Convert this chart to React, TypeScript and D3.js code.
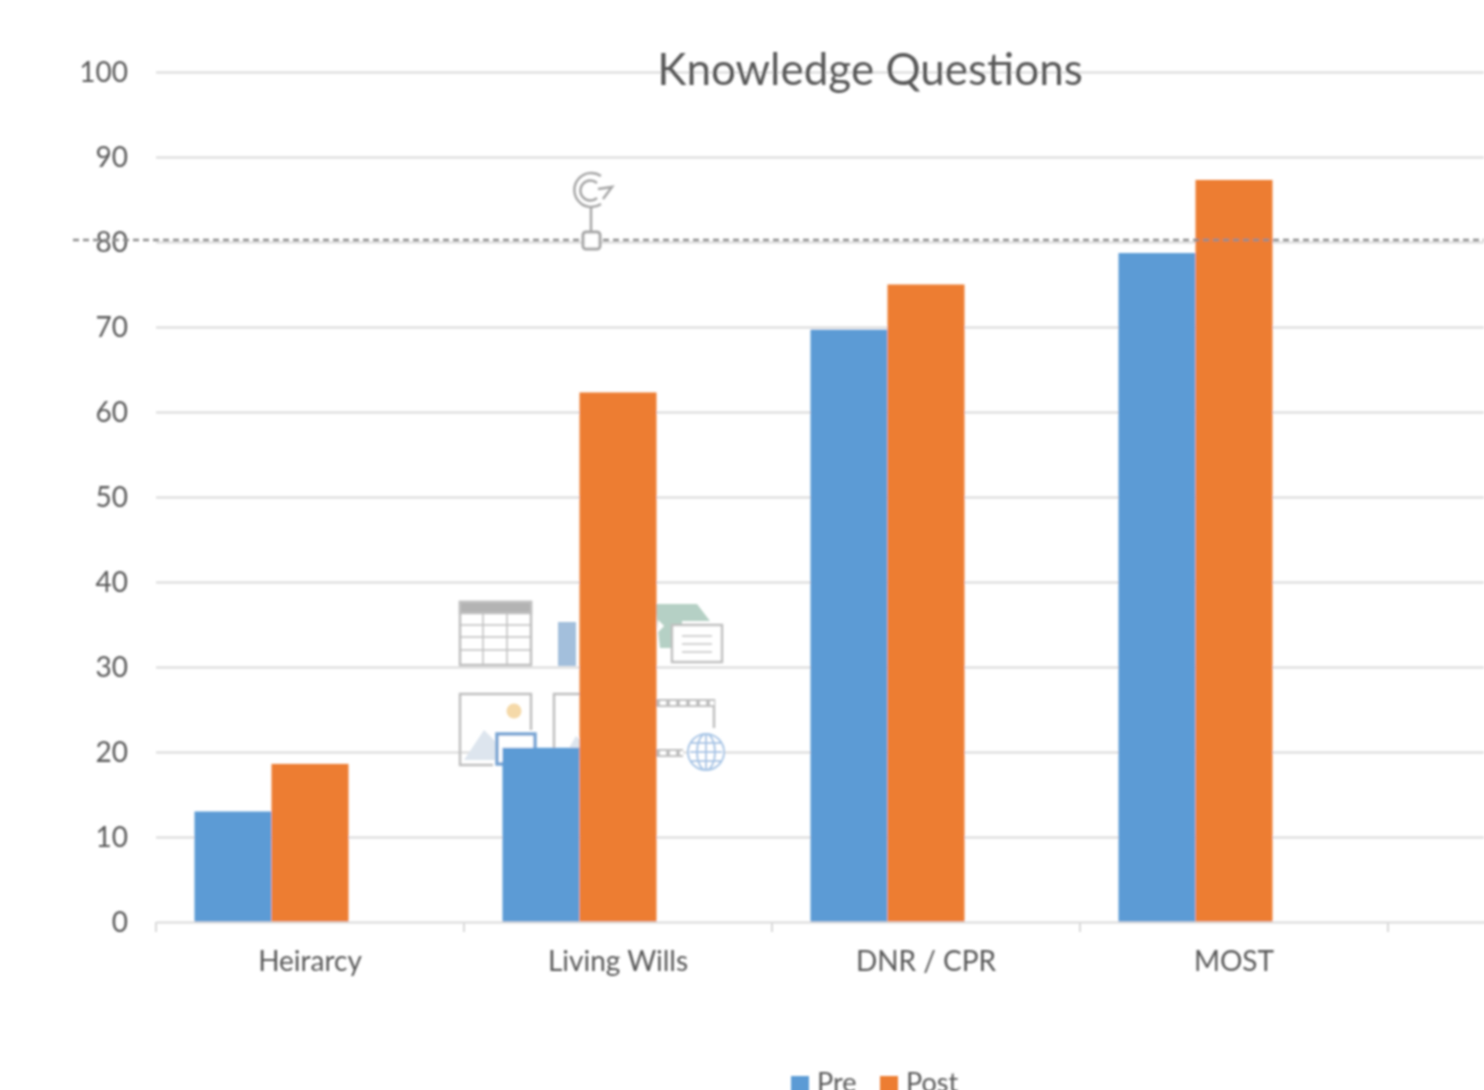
import * as d3 from "d3";
import { useEffect, useRef } from "react";

const categories = ["Heirarcy", "Living Wills", "DNR / CPR", "MOST", ""];
const seriesNames = ["Pre", "Post"];
// The chart keeps room for a third, empty series, which is why the bars sit left of their labels
const barSlots = ["Pre", "Post", "blank"];
const preValues = [13, 20.5, 69.7, 78.7];
const postValues = [18.6, 62.3, 75, 87.3];
const yTicks = [0, 10, 20, 30, 40, 50, 60, 70, 80, 90, 100];
const colors = ["#5b9bd5", "#ed7d31"];

const width = 1484;
const height = 1090;
const font = "Lato, 'Open Sans', sans-serif";
const textColor = "#595959";
const gridColor = "#d9d9d9";

export default function App() {
	const svgRef = useRef<SVGSVGElement>(null);

	useEffect(() => {
		if (!svgRef.current) return;
		const svg = d3.select(svgRef.current);
		svg.selectAll("*").remove();

		// The picture is a soft upscale, so everything gets a slight blur
		svg.append("defs")
			.append("filter")
			.attr("id", "soft")
			.append("feGaussianBlur")
			.attr("stdDeviation", 0.9);

		const root = svg.append("g").attr("filter", "url(#soft)");

		// Scales, the fifth band is empty and runs off the right edge
		const xScale = d3.scaleBand().domain(categories.map((_d, i) => String(i))).range([156, 1696]);
		const groupScale = d3
			.scaleBand()
			.domain(barSlots)
			.range([xScale.bandwidth() * 0.125, xScale.bandwidth() * 0.875]);
		const yScale = d3.scaleLinear().domain([0, 100]).range([922, 72]);

		// Grid lines
		const grid = root.append("g")
			.call(d3.axisLeft(yScale).tickValues(yTicks.slice(1)).tickSize(-(width - 156)).tickFormat(() => ""))
			.attr("transform", "translate(156,0)");
		grid.select(".domain").remove();
		grid.selectAll("line").attr("stroke", gridColor).attr("stroke-width", 2);

		// Y labels
		root.append("g")
			.selectAll("text")
			.data(yTicks)
			.enter()
			.append("text")
			.attr("x", 128)
			.attr("y", (d) => yScale(d))
			.attr("dy", "0.35em")
			.attr("text-anchor", "end")
			.attr("font-family", font)
			.attr("font-size", 28)
			.attr("fill", textColor)
			.text((d) => d);

		// Placeholder icons sitting behind the bars
		const icons = root.append("g").attr("fill", "none").attr("stroke", "#bfbfbf").attr("stroke-width", 2.5);
		icons.append("rect").attr("x", 460).attr("y", 602).attr("width", 71).attr("height", 63);
		icons.append("rect").attr("x", 460).attr("y", 602).attr("width", 71).attr("height", 11).attr("fill", "#b3b3b3");
		[625, 637, 650].forEach((y) => {
			icons.append("line").attr("x1", 460).attr("x2", 531).attr("y1", y).attr("y2", y).attr("stroke-width", 1.5);
		});
		[483, 507].forEach((x) => {
			icons.append("line").attr("x1", x).attr("x2", x).attr("y1", 613).attr("y2", 665).attr("stroke-width", 1.5);
		});
		icons.append("rect").attr("x", 558).attr("y", 622).attr("width", 18).attr("height", 44).attr("fill", "#a3bfdc").attr("stroke", "none");
		icons.append("path").attr("d", "M655,604 L697,604 L710,621 L682,621 L682,648 L660,648 Z").attr("fill", "#b5d0c5").attr("stroke", "none");
		icons.append("path").attr("d", "M658,620 L664,626 L658,632 Z").attr("fill", "#fff").attr("stroke", "none");
		icons.append("rect").attr("x", 672).attr("y", 625).attr("width", 50).attr("height", 37).attr("fill", "#fff");
		[636, 644, 652].forEach((y) => {
			icons.append("line").attr("x1", 682).attr("x2", 712).attr("y1", y).attr("y2", y).attr("stroke-width", 1.5);
		});
		icons.append("path").attr("d", "M531,730 L531,694 L460,694 L460,765 L493,765");
		icons.append("circle").attr("cx", 514).attr("cy", 711).attr("r", 7.5).attr("fill", "#f5d9a8").attr("stroke", "none");
		icons.append("path").attr("d", "M464,760 L484,730 L496,742 L496,760 Z").attr("fill", "#dde5ee").attr("stroke", "none");
		icons.append("rect").attr("x", 497).attr("y", 734).attr("width", 38).attr("height", 30).attr("fill", "#fff").attr("stroke", "#7ba6d4").attr("stroke-width", 3.5);
		icons.append("path").attr("d", "M554,750 L554,694 L600,694");
		icons.append("path").attr("d", "M562,760 L576,736 L590,750 L590,760 Z").attr("fill", "#dde5ee").attr("stroke", "none");
		icons.append("line").attr("x1", 714).attr("x2", 714).attr("y1", 699).attr("y2", 728);
		[[650, 714, 703], [650, 683, 753]].forEach(([x1, x2, y]) => {
			icons.append("line").attr("x1", x1).attr("x2", x2).attr("y1", y).attr("y2", y).attr("stroke-width", 8);
			icons.append("line")
				.attr("x1", x1)
				.attr("x2", x2)
				.attr("y1", y)
				.attr("y2", y)
				.attr("stroke", "#fff")
				.attr("stroke-width", 4)
				.attr("stroke-dasharray", "6,4");
		});
		const globe = icons.append("g").attr("stroke", "#a9c6e6").attr("stroke-width", 2);
		globe.append("circle").attr("cx", 706).attr("cy", 752).attr("r", 18).attr("fill", "#fff");
		globe.append("ellipse").attr("cx", 706).attr("cy", 752).attr("rx", 9).attr("ry", 18);
		globe.append("line").attr("x1", 706).attr("x2", 706).attr("y1", 734).attr("y2", 770);
		[743, 752, 761].forEach((y) => {
			globe.append("line").attr("x1", 690).attr("x2", 722).attr("y1", y).attr("y2", y);
		});

		// Bars
		[preValues, postValues].forEach((values, s) => {
			root.append("g")
				.selectAll("rect")
				.data(values)
				.enter()
				.append("rect")
				.attr("x", (_d, i) => (xScale(String(i)) || 0) + (groupScale(seriesNames[s]) || 0))
				.attr("y", (d) => yScale(d))
				.attr("width", groupScale.bandwidth())
				.attr("height", (d) => yScale(0) - yScale(d))
				.attr("fill", colors[s]);
		});

		// X axis
		const xAxis = root.append("g")
			.attr("transform", "translate(0,922)")
			.call(d3.axisBottom(xScale).tickFormat((_d, i) => categories[i]).tickSize(0).tickPadding(29));
		xAxis.select(".domain").attr("stroke", gridColor).attr("stroke-width", 2);
		xAxis.selectAll("text")
			.attr("font-family", font)
			.attr("font-size", 28)
			.attr("fill", textColor);
		xAxis.selectAll(".tick-mark")
			.data(d3.range(categories.length + 1))
			.enter()
			.append("line")
			.attr("x1", (i) => (i < categories.length ? xScale(String(i)) || 0 : 1696))
			.attr("x2", (i) => (i < categories.length ? xScale(String(i)) || 0 : 1696))
			.attr("y1", 0)
			.attr("y2", 10)
			.attr("stroke", gridColor)
			.attr("stroke-width", 2);

		// Title
		root.append("text")
			.attr("x", 870)
			.attr("y", 85)
			.attr("text-anchor", "middle")
			.attr("font-family", font)
			.attr("font-size", 44)
			.attr("fill", textColor)
			.text("Knowledge Questions");

		// Selection handle and dashed guide
		const handle = root.append("g").attr("fill", "none").attr("stroke", "#a6a6a6");
		handle.append("line")
			.attr("x1", 73)
			.attr("x2", width)
			.attr("y1", 240)
			.attr("y2", 240)
			.attr("stroke", "#8c8c8c")
			.attr("stroke-width", 2.5)
			.attr("stroke-dasharray", "6,4");
		handle.append("line").attr("x1", 591).attr("x2", 591).attr("y1", 206).attr("y2", 232).attr("stroke-width", 2.5);
		handle.append("rect").attr("x", 583).attr("y", 232).attr("width", 17).attr("height", 17).attr("rx", 3).attr("fill", "#fff").attr("stroke-width", 3);
		handle.append("path").attr("d", "M601,176 A17,17 0 1 0 601,204").attr("stroke-width", 2.5);
		handle.append("path").attr("d", "M597,183 A10,10 0 1 0 597,198").attr("stroke-width", 2.5);
		handle.append("path").attr("d", "M598,189 L612,187 L603,199").attr("stroke-width", 2.5);

		// Legend
		const legendX = [791, 880];
		const legend = root.append("g")
			.selectAll("g")
			.data(seriesNames)
			.enter()
			.append("g")
			.attr("transform", (_d, i) => `translate(${legendX[i]},0)`);
		legend.append("rect")
			.attr("y", 1076)
			.attr("width", 18)
			.attr("height", 18)
			.attr("fill", (_d, i) => colors[i]);
		legend.append("text")
			.attr("x", 26)
			.attr("y", 1092)
			.attr("font-family", font)
			.attr("font-size", 27)
			.attr("fill", textColor)
			.text((d) => d);
	}, []);

	return (
		<svg
			ref={svgRef}
			width={width}
			height={height}
			style={{ position: "absolute", left: 0, top: 0, background: "#fff" }}
		/>
	);
}
